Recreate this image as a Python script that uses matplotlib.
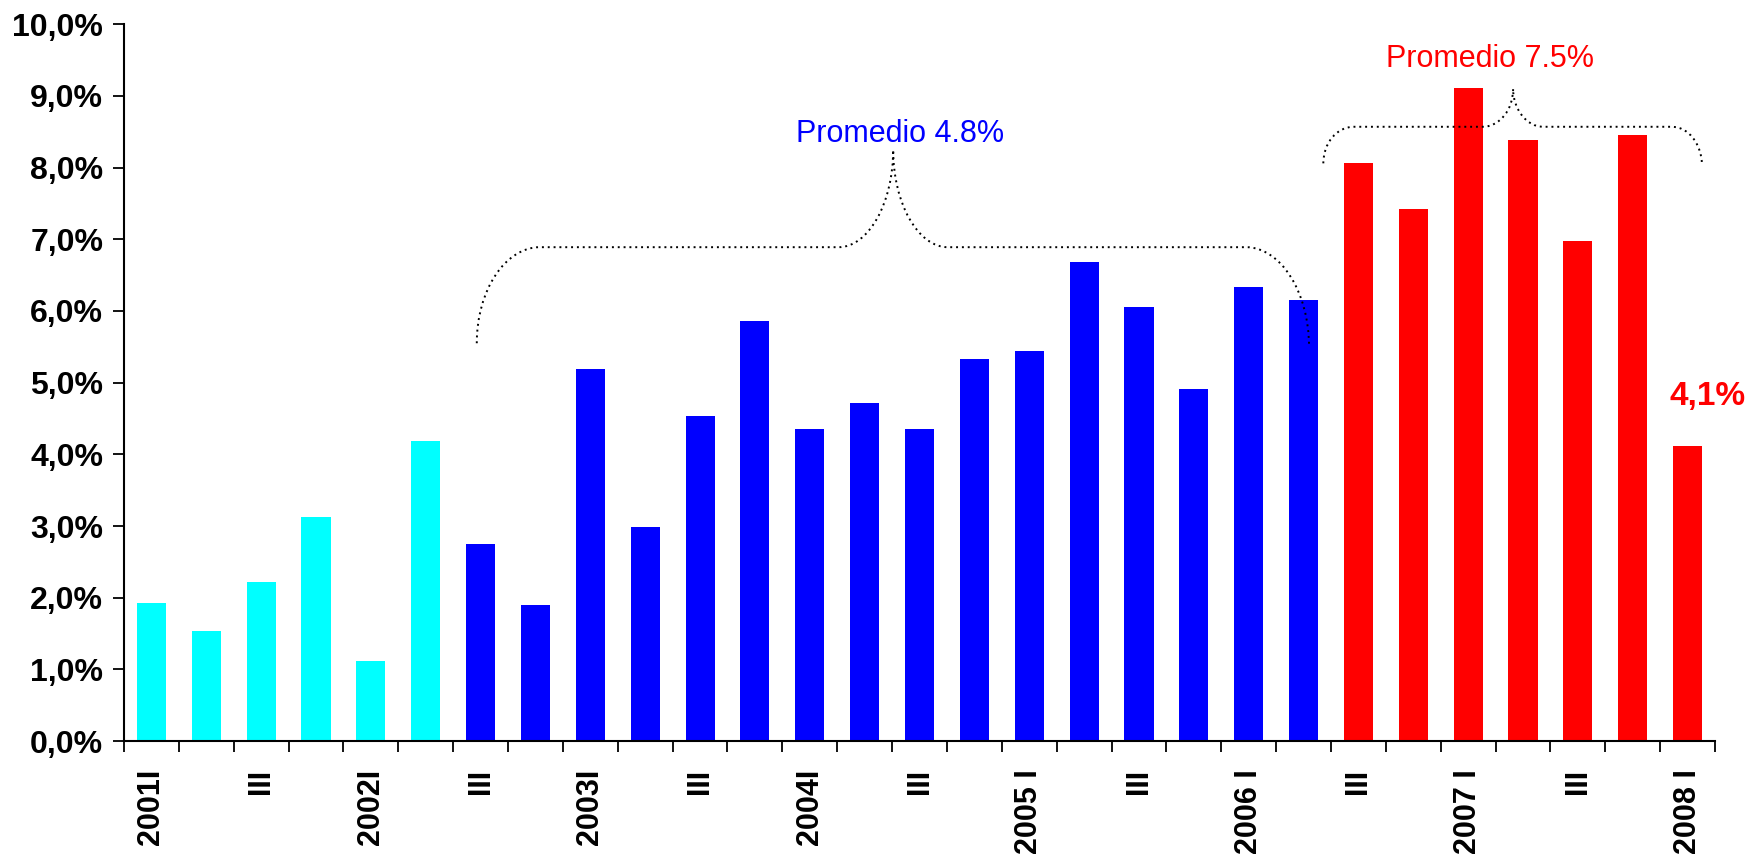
import numpy as np
import matplotlib
matplotlib.use("Agg")
import matplotlib.pyplot as plt
from matplotlib.path import Path
from matplotlib.patches import PathPatch

plt.rcParams["font.family"] = ["Liberation Sans", "DejaVu Sans"]

# quarterly growth, 2001 I .. 2008 I
values = [1.92, 1.53, 2.22, 3.12, 1.12, 4.18,
          2.75, 1.90, 5.19, 2.98, 4.54, 5.86, 4.35, 4.71, 4.35, 5.33,
          5.44, 6.69, 6.05, 4.91, 6.33, 6.16,
          8.06, 7.42, 9.11, 8.39, 6.98, 8.45, 4.12]
groups = ["c"] * 6 + ["b"] * 16 + ["r"] * 7
tick_labels = ["2001I", "III", "2002I", "III", "2003I", "III", "2004I", "III",
               "2005 I", "III", "2006 I", "III", "2007 I", "III", "2008 I"]
group_colors = {"c": "#00FFFF", "b": "#0000FF", "r": "#FF0000"}

# brace annotations: x0, x1, xm, y_left, y_right, y_flat, y_peak, r_end, r_mid
braces = [
    (5.93, 21.1, 13.52, 5.55, 5.5, 6.89, 8.25, 1.15, 1.0),
    (21.36, 28.26, 24.82, 8.06, 8.04, 8.57, 9.1, 0.55, 0.55),
]


def brace_path(x0, x1, xm, yl, yr, yh, yp, re, rm):
    verts = [(x0, yl),
             (x0, yl + 0.55 * (yh - yl)), (x0 + 0.45 * re, yh), (x0 + re, yh),
             (xm - rm, yh),
             (xm - 0.45 * rm, yh), (xm, yh + 0.45 * (yp - yh)), (xm, yp),
             (xm, yh + 0.45 * (yp - yh)), (xm + 0.45 * rm, yh), (xm + rm, yh),
             (x1 - re, yh),
             (x1 - 0.45 * re, yh), (x1, yr + 0.55 * (yh - yr)), (x1, yr)]
    codes = [Path.MOVETO,
             Path.CURVE4, Path.CURVE4, Path.CURVE4,
             Path.LINETO,
             Path.CURVE4, Path.CURVE4, Path.CURVE4,
             Path.CURVE4, Path.CURVE4, Path.CURVE4,
             Path.LINETO,
             Path.CURVE4, Path.CURVE4, Path.CURVE4]
    return Path(verts, codes)


fig = plt.figure(figsize=(17.59, 8.55), dpi=100)
ax = fig.add_axes([0.0705, 0.1333, 0.9045, 0.8383])

x = np.arange(len(values))
ax.bar(x, values, width=0.53, color=[group_colors[g] for g in groups])

ax.set_xlim(-0.5, len(values) - 0.5)
ax.set_ylim(0, 10)
ax.set_yticks(np.arange(0, 11))
ax.set_yticklabels([f"{v},0%" for v in range(11)], fontsize=23, fontweight="bold")
ax.tick_params(axis="y", length=8, width=1.3, pad=7)

ax.set_xticks(x[::2])
ax.set_xticklabels(tick_labels, rotation=90, fontsize=22, fontweight="bold")
ax.set_xticks(np.arange(-0.5, len(values)), minor=True)
ax.tick_params(axis="x", which="major", length=0, pad=20)
ax.tick_params(axis="x", which="minor", length=8, width=1.3)

for s in ["top", "right"]:
    ax.spines[s].set_visible(False)
for s in ["left", "bottom"]:
    ax.spines[s].set_linewidth(1.5)

for b in braces:
    ax.add_patch(PathPatch(brace_path(*b), fill=False, ec="black", lw=1.4,
                           ls=(0, (1, 2)), clip_on=False))

ax.text(13.65, 8.47, "Promedio 4.8%", color="#0000FF", fontsize=22,
        ha="center", va="center")
ax.text(24.4, 9.52, "Promedio 7.5%", color="#FF0000", fontsize=22,
        ha="center", va="center")
ax.text(28.36, 4.8, "4,1%", color="#FF0000", fontsize=24, fontweight="bold",
        ha="center", va="center", clip_on=False)

fig.savefig("out.png", dpi=100)
